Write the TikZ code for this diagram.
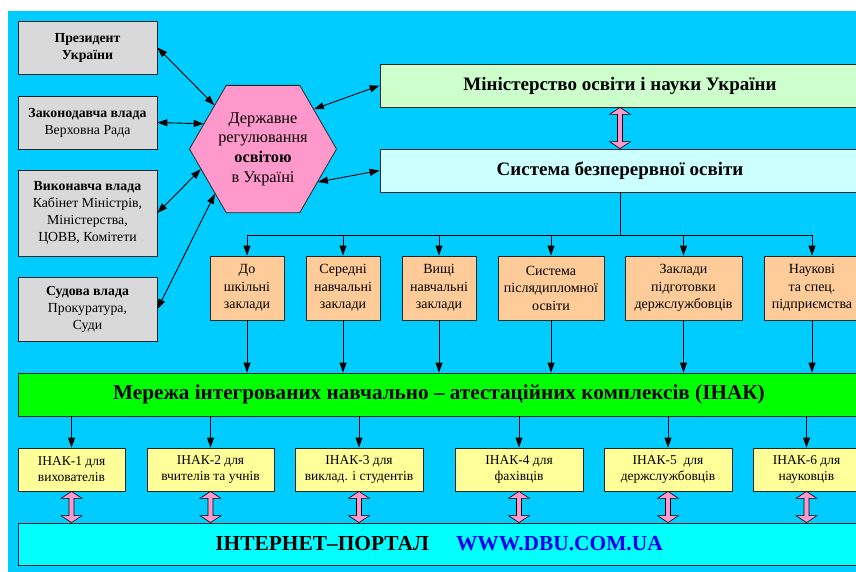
\documentclass[tikz,border=0pt]{standalone}
\usepackage{fontspec}
\setmainfont{Liberation Serif}
\usetikzlibrary{arrows.meta,shapes.geometric,calc}
\definecolor{db-back}{HTML}{00CCFF}
\definecolor{db-gray}{HTML}{D9D9D9}
\definecolor{db-pink}{HTML}{FF99CC}
\definecolor{db-mon}{HTML}{CCFFCC}
\definecolor{db-sys}{HTML}{CCFFFF}
\definecolor{db-orange}{HTML}{FFCC99}
\definecolor{db-green}{HTML}{00FF00}
\definecolor{db-yellow}{HTML}{FFFF99}
\definecolor{db-portal}{HTML}{00FFFF}
\definecolor{db-url}{HTML}{0000EE}
% fat pink two-way arrow from #1 (top) to #2 (bottom)
\newcommand\pinkarrow[2]{%
  \draw[pinkarr] #1 -- ++(10.5,7) -- ++(-8,0) -- ($#2+(2.5,-7)$) -- ++(8,0) -- #2
    -- ++(-10.5,-7) -- ++(8,0) -- ($#1+(-2.5,7)$) -- ++(-8,0) -- cycle;}

\begin{document}
\begin{tikzpicture}[x=1pt,y=-1pt,
    box/.style={draw=black!85,line width=0.8pt,inner sep=0pt,align=center},
    govbox/.style={box,fill=db-gray,minimum width=139pt,font=\fontsize{13.8}{17}\selectfont},
    wide/.style={box,minimum height=43pt,font=\fontsize{19}{22}\selectfont\bfseries},
    orbox/.style={box,fill=db-orange,minimum height=64pt,font=\fontsize{14}{17.5}\selectfont},
    yelbox/.style={box,fill=db-yellow,minimum height=43pt,font=\fontsize{13.5}{16}\selectfont},
    hexa/.style={regular polygon,regular polygon sides=6,minimum size=147pt,inner sep=0pt,
      draw=black!85,line width=0.8pt,fill=db-pink},
    link/.style={{Triangle[length=10pt,width=7pt]}-{Triangle[length=10pt,width=7pt]},line width=0.9pt},
    down/.style={-{Triangle[length=10pt,width=7pt]},line width=0.9pt},
    pinkarr/.style={draw=black,fill=db-pink,line width=0.6pt,line join=miter}]
  \useasboundingbox (0,0) rectangle (856,571);
  \clip (0,0) rectangle (856,571);
  \fill[db-back] (8,11) rectangle (870,580);

  % state bodies
  \node[govbox,minimum height=53pt] (pres) at (87.5,47.5) {\textbf{Президент}\\\textbf{України}};
  \node[govbox,minimum height=53pt] (leg) at (87.5,122.5) {\textbf{Законодавча влада}\\Верховна Рада};
  \node[govbox,minimum height=86pt] (exe) at (87.5,213) {\textbf{Виконавча влада}\\Кабінет Міністрів,\\Міністерства,\\ЦОВВ, Комітети};
  \node[govbox,minimum height=64pt] (jud) at (87.5,309) {\textbf{Судова влада}\\Прокуратура,\\Суди};

  \node[hexa] (reg) at (263,149) {};
  \node[align=center,font=\fontsize{16.3}{19.7}\selectfont] (regtext) at (reg) {Державне\\регулювання\\\textbf{освітою}\\в Україні};

  \node[wide,fill=db-mon,minimum width=480pt] (mon) at (620,85.5) {Міністерство освіти і науки України};
  \node[wide,fill=db-sys,minimum width=480pt] (sys) at (620,170.5) {Система безперервної освіти};

  \draw[link] (pres.east) -- (reg.138);
  \draw[link] (leg.east) -- (reg.157);
  \draw[link] (exe.east) -- (reg.198);
  \draw[link] (jud.east) -- (reg.223);
  \draw[link] (reg.38) -- (mon.west);
  \draw[link] (reg.-31) -- (sys.west);
  \pinkarrow{(mon.south)}{(sys.north)}

  % education levels
  \node[orbox,minimum width=74pt] (o1) at (247,288) {До\\шкільні\\заклади};
  \node[orbox,minimum width=74pt] (o2) at (343,288) {Середні\\навчальні\\заклади};
  \node[orbox,minimum width=74pt] (o3) at (439,288) {Вищі\\навчальні\\заклади};
  \node[orbox,minimum width=106pt] (o4) at (551,288) {Система\\післядипломної\\освіти};
  \node[orbox,minimum width=117pt] (o5) at (683.5,288) {Заклади\\підготовки\\держслужбовців};
  \node[orbox,minimum width=96pt] (o6) at (812,288) {Наукові\\та спец.\\підприємства};

  \coordinate (bus) at (620,235);
  \draw[line width=0.9pt] (sys.south) -- (bus);
  \draw[line width=0.9pt] (o1.north |- bus) -- (o6.north |- bus);

  \node[wide,fill=db-green,minimum width=842pt,font=\fontsize{21.2}{24}\selectfont\bfseries] (net) at (439,394.5)
    {Мережа інтегрованих навчально – атестаційних комплексів (ІНАК)};

  \foreach \i in {1,...,6} {
    \draw[down] (o\i.north |- bus) -- (o\i.north);
    \draw[down] (o\i.south) -- (o\i.south |- net.north);
  }

  % complexes
  \node[yelbox,minimum width=107pt] (y1) at (71.5,469.5) {ІНАК-1 для\\вихователів};
  \node[yelbox,minimum width=127pt] (y2) at (210.5,469.5) {ІНАК-2 для\\вчителів та учнів};
  \node[yelbox,minimum width=128pt] (y3) at (359,469.5) {ІНАК-3 для\\виклад. і студентів};
  \node[yelbox,minimum width=128pt] (y4) at (519,469.5) {ІНАК-4 для\\фахівців};
  \node[yelbox,minimum width=128pt] (y5) at (668,469.5) {ІНАК-5\ \ для\\держслужбовців};
  \node[yelbox,minimum width=107pt] (y6) at (806.5,469.5) {ІНАК-6 для\\науковців};

  \node[wide,fill=db-portal,minimum width=842pt,minimum height=42pt,font=\fontsize{21.4}{24}\selectfont\bfseries] (portal) at (439,544)
    {ІНТЕРНЕТ–ПОРТАЛ\hspace{27pt}\textcolor{db-url}{WWW.DBU.COM.UA}};

  \foreach \i in {1,...,6} {
    \draw[down] (y\i.north |- net.south) -- (y\i.north);
    \pinkarrow{(y\i.south)}{(y\i.south |- portal.north)}
  }
\end{tikzpicture}
\end{document}
